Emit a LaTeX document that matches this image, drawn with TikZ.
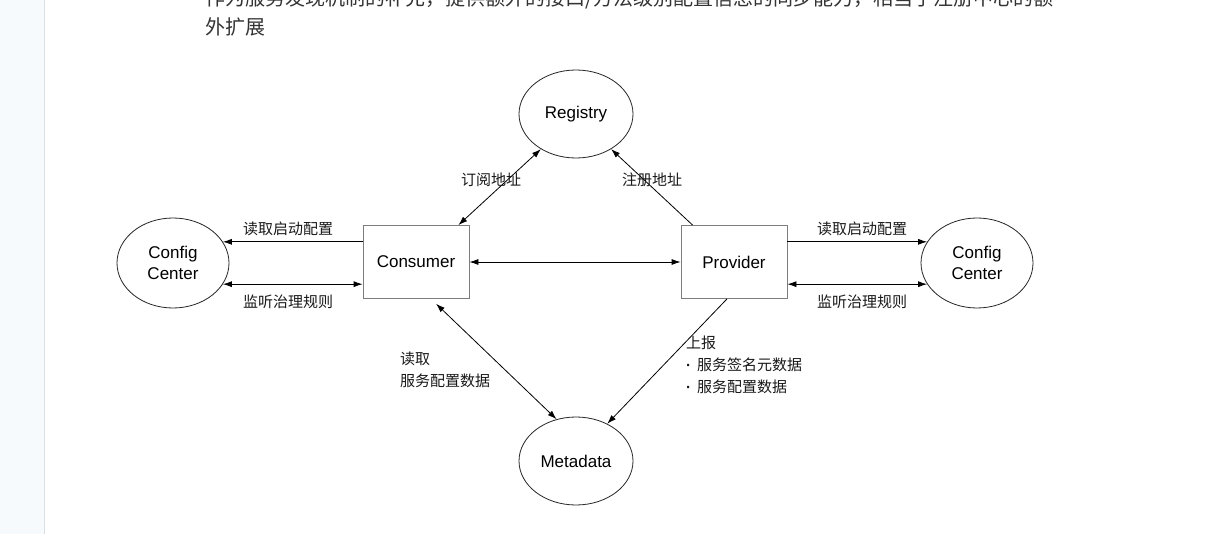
\documentclass[tikz,border=0pt]{standalone}
\usepackage{fontspec}
\setmainfont{Liberation Sans}
\newfontfamily\cjkfont{Noto Sans CJK SC}
\usetikzlibrary{arrows.meta,positioning,shapes.geometric,calc}
\definecolor{SideBlue}{RGB}{247,250,253}
\definecolor{SideLine}{RGB}{218,223,228}
\definecolor{BoxGray}{RGB}{125,125,125}
\definecolor{TextGray}{RGB}{51,51,51}
\newcommand{\dotmark}{{\rmfamily\bfseries\fontsize{15}{22}\selectfont\textperiodcentered}\hspace{6pt}}
\tikzset{
  store/.style={ellipse,draw=black!85,line width=0.8pt,minimum width=114pt,
    minimum height=88pt,inner sep=0pt,align=center,
    font=\fontsize{17}{21}\selectfont},
  service/.style={rectangle,draw=BoxGray,line width=0.8pt,minimum width=106pt,
    minimum height=73pt,inner sep=0pt,font=\fontsize{17}{21}\selectfont},
  tag/.style={inner sep=0pt,align=left,text=black!90,
    font=\cjkfont\fontsize{15}{22}\selectfont},
  para/.style={anchor=west,inner sep=0pt,text=TextGray,
    font=\cjkfont\fontsize{20}{28}\selectfont},
  arrow/.style={-{Latex[length=9pt,width=6pt]},line width=0.8pt},
  biarrow/.style={{Latex[length=9pt,width=6pt]}-{Latex[length=9pt,width=6pt]},line width=0.8pt}
}
\begin{document}
\begin{tikzpicture}[x=1pt,y=-1pt]
  \useasboundingbox (0,0) rectangle (1230,534);
  \clip (0,0) rectangle (1230,534);
  \fill[white] (0,0) rectangle (1230,534);
  % page side bar
  \fill[SideBlue] (0,0) rectangle (44,534);
  \draw[SideLine,line width=0.8pt] (44,0) -- (44,534);
  \node[para] (line1) at (205,-1) {作为服务发现机制的补充，提供额外的接口/方法级别配置信息的同步能力，相当于注册中心的额};
  \node[para] (line2) at (205,27) {外扩展};

  \node[store] (registry) at (576,114) {Registry};
  \node[store] (metadata) at (576,461) {Metadata};
  \node[store,minimum width=112pt,minimum height=90pt] (cfgl) at (173,263) {Config\\Center};
  \node[store,minimum width=112pt,minimum height=90pt] (cfgr) at (977,263) {Config\\Center};
  \node[service] (consumer) at (416,262) {Consumer};
  \node[service] (provider) at (734,262) {Provider};

  \draw[biarrow] ([xshift=-11pt]consumer.north east) -- (registry.225);
  \draw[arrow] ([xshift=12pt]provider.north west) -- (registry.315);
  \draw[biarrow] (consumer) -- (provider);
  \draw[arrow] (consumer.west |- cfgl.23) -- (cfgl.23);
  \draw[biarrow] (consumer.west |- cfgl.-23) -- (cfgl.-23);
  \draw[arrow] (provider.east |- cfgr.157) -- (cfgr.157);
  \draw[biarrow] (provider.east |- cfgr.203) -- (cfgr.203);
  \draw[biarrow,shorten <=7pt] ([xshift=15pt]consumer.south) -- (metadata.115);
  \draw[arrow] ([xshift=-7pt]provider.south) -- (metadata.50);

  \node[tag] (subscribe) at (491,180) {订阅地址};
  \node[tag] (register) at (652,180) {注册地址};
  \node[tag] (readl) at (288,229) {读取启动配置};
  \node[tag] (watchl) at (288,302) {监听治理规则};
  \node[tag] (readr) at (862,229) {读取启动配置};
  \node[tag] (watchr) at (862,302) {监听治理规则};
  \node[tag,anchor=north west] (readmeta) at (400,352) {读取\\服务配置数据};
  \node[tag,anchor=north west] (report) at (686,336) {上报\\\dotmark 服务签名元数据\\\dotmark 服务配置数据};
\end{tikzpicture}
\end{document}
